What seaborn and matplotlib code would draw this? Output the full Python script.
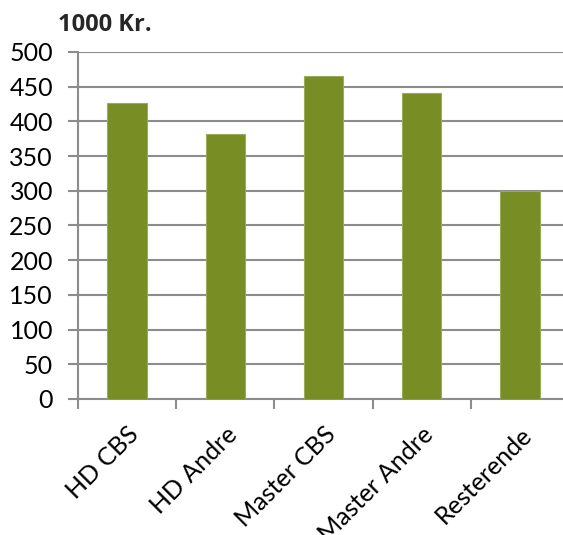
import numpy as np
import pandas as pd
import matplotlib
matplotlib.use("Agg")
import matplotlib.pyplot as plt
from matplotlib.ticker import FixedLocator
import seaborn as sns

categories = ["HD CBS", "HD Andre", "Master CBS", "Master Andre", "Resterende"]
values = [426, 382, 466, 441, 300]
y_ticks = list(range(0, 501, 50))

df = pd.DataFrame({"kategori": categories, "kr": values})

sns.set_theme(style="white")
plt.rcParams['font.family'] = ['Lato', 'DejaVu Sans']

W, H = 563, 535
fig = plt.figure(figsize=(W / 100, H / 100), dpi=100)
left, right = 78, 569
top, bottom = 52, 399
ax = fig.add_axes([left / W, 1 - bottom / H, (right - left) / W, (bottom - top) / H])

sns.barplot(data=df, x="kategori", y="kr", ax=ax, color="#788D23",
            width=0.4, saturation=1, edgecolor="#9aab5a", linewidth=0.8, zorder=3)

grid_col = "#8c8c8c"
ax.set_ylim(0, 500)
ax.set_xlim(-0.5, len(categories) - 0.5)
ax.set_yticks(y_ticks)
ax.yaxis.grid(True, color=grid_col, linewidth=1.5, zorder=0)
ax.set_axisbelow(True)
ax.set_xlabel("")
ax.set_ylabel("")

for s in ["top", "right"]:
    ax.spines[s].set_visible(False)
for s in ["left", "bottom"]:
    ax.spines[s].set_color(grid_col)
    ax.spines[s].set_linewidth(1.5)

# y ticks: gray marks, labels set off to the left
ax.tick_params(axis="y", direction="out", length=7, width=1.5, color=grid_col,
               labelsize=18, pad=11, left=True, labelcolor="black")
# x ticks at category boundaries, labels rotated under the bars
ax.xaxis.set_minor_locator(FixedLocator(np.arange(-0.5, len(categories), 1.0)))
ax.tick_params(axis="x", which="minor", direction="out", length=7, width=1.5,
               color=grid_col, bottom=True)
ax.tick_params(axis="x", which="major", length=0, labelsize=18, pad=17)
plt.setp(ax.get_xticklabels(), rotation=45, ha="right", va="top",
         rotation_mode="anchor", color="black")

fig.text(58 / W, 1 - 25 / H, "1000 Kr.", fontsize=17, fontweight="bold",
         family=["Open Sans", "DejaVu Sans"], va="center", ha="left")

fig.savefig("out.png", dpi=100, facecolor="white")
